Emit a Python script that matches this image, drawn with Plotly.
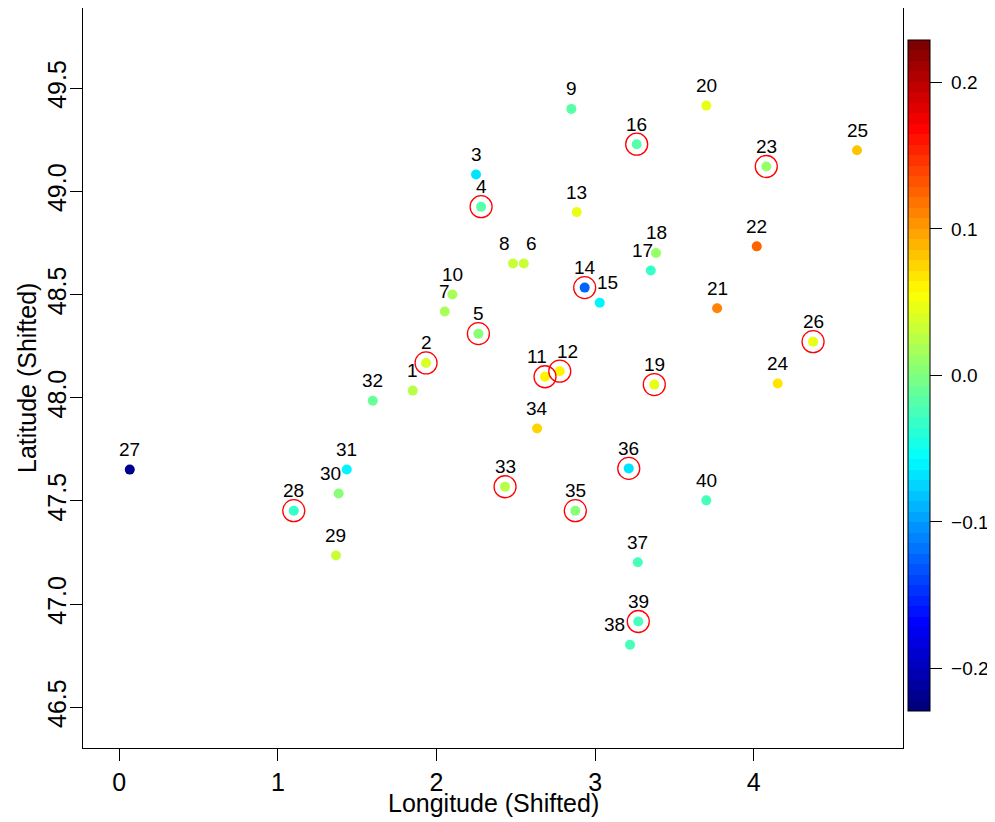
import plotly.graph_objects as go

# ---------------- data ----------------
site_ids = list(range(1, 41))
longitude = [1.850, 1.934, 2.249, 2.281, 2.264, 2.550, 2.052, 2.482, 2.850, 2.100,
             2.684, 2.777, 2.884, 2.934, 3.029, 3.262, 3.351, 3.384, 3.373, 3.701,
             3.769, 4.019, 4.079, 4.151, 4.651, 4.374, 0.066, 1.100, 1.366, 1.383,
             1.434, 1.598, 2.432, 2.634, 2.875, 3.212, 3.269, 3.220, 3.272, 3.701]
latitude = [48.035, 48.169, 49.082, 48.926, 48.311, 48.651, 48.418, 48.651, 49.400, 48.501,
            48.102, 48.129, 48.900, 48.534, 48.461, 49.229, 48.617, 48.702, 48.064, 49.416,
            48.434, 48.734, 49.121, 48.069, 49.200, 48.272, 47.652, 47.453, 47.236, 47.536,
            47.653, 47.986, 47.569, 47.851, 47.453, 47.658, 47.203, 46.803, 46.916, 47.503]
value = [0.022, 0.038, -0.066, -0.021, 0.007, 0.032, 0.015, 0.032, -0.018, 0.015,
         0.060, 0.060, 0.047, -0.126, -0.064, -0.016, -0.034, 0.011, 0.043, 0.048,
         0.110, 0.126, 0.008, 0.067, 0.080, 0.050, -0.221, -0.035, 0.029, 0.004,
         -0.063, -0.014, 0.026, 0.075, 0.001, -0.069, -0.028, -0.028, -0.028, -0.025]
highlighted = [2, 4, 5, 11, 12, 14, 16, 19, 23, 26, 28, 33, 35, 36, 39]

x_ticks = [0, 1, 2, 3, 4]
y_ticks = [46.5, 47.0, 47.5, 48.0, 48.5, 49.0, 49.5]
y_ticktext = ["46.5", "47.0", "47.5", "48.0", "48.5", "49.0", "49.5"]
cbar_ticks = [-0.2, -0.1, 0.0, 0.1, 0.2]
cbar_ticktext = ["\u22120.2", "\u22120.1", "0.0", "0.1", "0.2"]

# ---------------- style ----------------
FONT = "Liberation Sans, Arial, Helvetica, sans-serif"
jet_anchors = ["#00007F", "#0000FF", "#007FFF", "#00FFFF", "#7FFF7F",
               "#FFFF00", "#FF7F00", "#FF0000", "#7F0000"]
N_STEPS = 64
VMIN, VMAX = -0.229, 0.229
# pixel nudges for a few crowded labels
label_xshift = {6: 8, 8: -8, 11: -8, 12: 8, 15: 8, 17: -8, 30: -8, 38: -16}


def hex2rgb(h):
    h = h.lstrip("#")
    return tuple(int(h[i:i + 2], 16) for i in (0, 2, 4))


def ramp(n):
    anchors = [hex2rgb(c) for c in jet_anchors]
    out = []
    for i in range(n):
        t = i / (n - 1) * (len(anchors) - 1)
        k = min(int(t), len(anchors) - 2)
        f = t - k
        a, b = anchors[k], anchors[k + 1]
        rgb = [round(a[j] + (b[j] - a[j]) * f) for j in range(3)]
        out.append("rgb(%d,%d,%d)" % tuple(rgb))
    return out


cols = ramp(N_STEPS)
colorscale = []
for i, c in enumerate(cols):
    colorscale.append([i / N_STEPS, c])
    colorscale.append([(i + 1) / N_STEPS, c])

fig = go.Figure()

fig.add_trace(go.Scatter(
    x=longitude, y=latitude, mode="markers",
    marker=dict(size=10, color=value, colorscale=colorscale, cmin=VMIN, cmax=VMAX,
                line=dict(width=0),
                colorbar=dict(
                    thickness=22, thicknessmode="pixels",
                    len=671, lenmode="pixels",
                    x=1.0061, xanchor="left", xref="paper",
                    y=0.5034, yanchor="middle",
                    xpad=0, ypad=0,
                    outlinecolor="black", outlinewidth=1,
                    tickmode="array", tickvals=cbar_ticks,
                    ticktext=["\u00a0" + t for t in cbar_ticktext],
                    ticks="outside", ticklen=12, tickcolor="black", tickwidth=1,
                    tickfont=dict(family=FONT, size=19, color="black"),
                )),
    showlegend=False, hoverinfo="skip",
))

hx = [longitude[site_ids.index(s)] for s in highlighted]
hy = [latitude[site_ids.index(s)] for s in highlighted]
fig.add_trace(go.Scatter(
    x=hx, y=hy, mode="markers",
    marker=dict(size=22, symbol="circle-open", color="red", line=dict(color="red", width=1.3)),
    showlegend=False, hoverinfo="skip",
))

for sid, xv, yv in zip(site_ids, longitude, latitude):
    fig.add_annotation(x=xv, y=yv, text=str(sid), showarrow=False,
                       xref="x", yref="y", yshift=20, xshift=label_xshift.get(sid, 0),
                       font=dict(family=FONT, size=19, color="black"))

# axis titles
fig.add_annotation(text="Longitude (Shifted)", xref="paper", yref="paper", x=0.5, y=0,
                   yshift=-55, yanchor="middle", xanchor="center", showarrow=False,
                   font=dict(family=FONT, size=25, color="black"))
fig.add_annotation(text="Latitude (Shifted)", xref="paper", yref="paper", x=0, y=0.5,
                   xshift=-56, xanchor="center", yanchor="middle", textangle=-90,
                   showarrow=False, font=dict(family=FONT, size=25, color="black"))

axis_common = dict(showgrid=False, zeroline=False, showline=True, mirror=True,
                   linecolor="black", linewidth=1, ticks="outside", ticklen=12,
                   tickcolor="black", tickwidth=1,
                   tickfont=dict(family=FONT, size=25, color="black"))

fig.update_xaxes(range=[-0.2289, 4.941], tickmode="array", tickvals=x_ticks,
                 ticklabelstandoff=0, **axis_common)
fig.update_yaxes(range=[46.303, 49.889], tickmode="array", tickvals=y_ticks,
                 ticktext=y_ticktext, tickangle=-90, ticklabelstandoff=-6, **axis_common)

fig.update_layout(
    width=987, height=814,
    margin=dict(l=75, r=92, t=0, b=74, autoexpand=False),
    plot_bgcolor="white", paper_bgcolor="white",
    font=dict(family=FONT, color="black"),
)

fig.write_html("out.html")
